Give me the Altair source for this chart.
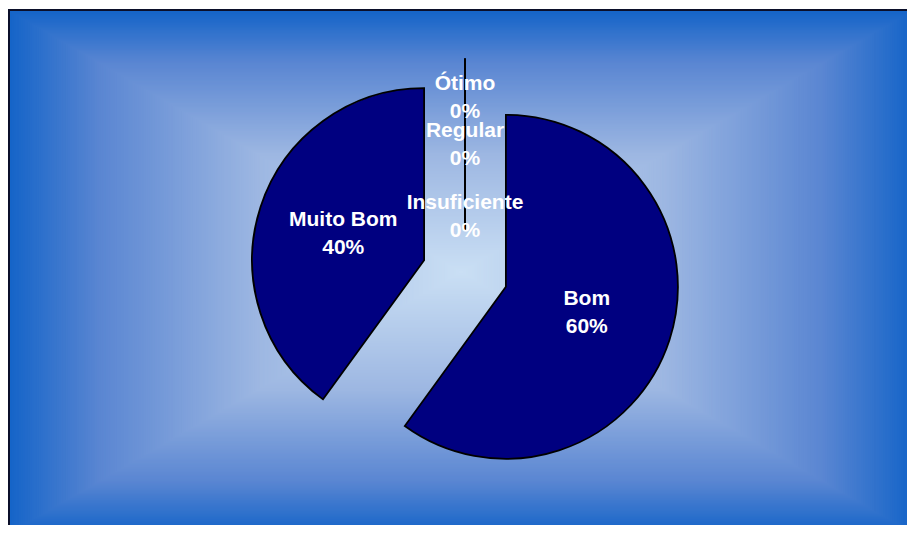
import altair as alt
import pandas as pd

# ---- data ----
categories = ["Bom", "Muito Bom", "Ótimo", "Regular", "Insuficiente"]
values = [60, 40, 0, 0, 0]
order = [0, 1, 2, 3, 4]

# background gradient colours (center -> edge)
grad_domain = [0, 0.45, 0.8, 1]
grad_colors = ["#cadff4", "#9db7e2", "#5a86d2", "#1464c8"]

W, H = 899, 517
CX, CY = 457, 265.5      # pie centre (chart px)
R = 172                  # pie radius
D = 43                   # explode distance
GCX, GCY, GHW, GHH = 453, 264, 453, 262  # gradient rectangle

df = pd.DataFrame({"cat": categories, "value": values, "order": order})

# ---- background: rectangular ("from centre") gradient ----
bg = (
    alt.Chart(alt.sequence(0, 1.0001, 0.004, as_="s"))
    .transform_calculate(t="1 - datum.s")
    .transform_calculate(
        x0=f"{GCX} - datum.t*{GHW}",
        x1=f"{GCX} + datum.t*{GHW}",
        y0=f"{GCY} - datum.t*{GHH}",
        y1=f"{GCY} + datum.t*{GHH}",
    )
    .mark_rect(strokeWidth=0)
    .encode(
        x=alt.X("x0:Q", scale=None, axis=None),
        x2="x1:Q",
        y=alt.Y("y0:Q", scale=None, axis=None),
        y2="y1:Q",
        color=alt.Color(
            "t:Q",
            scale=alt.Scale(domain=grad_domain, range=grad_colors, interpolate="rgb"),
            legend=None,
        ),
    )
)

frame_top = alt.Chart(df).mark_rule(color="#0b0f2a", strokeWidth=2).encode(
    x=alt.value(0), x2=alt.value(W), y=alt.value(2)
)
frame_left = alt.Chart(df).mark_rule(color="#0b0f2a", strokeWidth=2).encode(
    x=alt.value(1), y=alt.value(1), y2=alt.value(H)
)

base = (
    alt.Chart(df)
    .transform_window(cum="sum(value)", sort=[{"field": "order"}], frame=[None, 0])
    .transform_joinaggregate(total="sum(value)")
    .transform_calculate(
        a0="2*PI*(datum.cum - datum.value)/datum.total",
        a1="2*PI*datum.cum/datum.total",
    )
    .transform_calculate(mid="(datum.a0 + datum.a1)/2")
    .transform_calculate(
        cx=f"{CX} + {D}*sin(datum.mid)",
        cy=f"{CY} - {D}*cos(datum.mid)",
        ld="datum.value > 0 ? 85 : (datum.cat == 'Ótimo' ? 133 : (datum.cat == 'Regular' ? 86 : 14))",
        pct="format(datum.value/datum.total, '.0%')",
    )
    .transform_calculate(
        lx="datum.cx + datum.ld*sin(datum.mid)",
        ly="datum.cy - datum.ld*cos(datum.mid)",
        label="datum.cat + '\\n' + datum.pct",
    )
)

pie = base.mark_arc(radius=R, fill="#000080", stroke="#000000", strokeWidth=1.8).encode(
    theta=alt.Theta("a0:Q", scale=None),
    theta2="a1:Q",
    x=alt.X("cx:Q", scale=None, axis=None),
    y=alt.Y("cy:Q", scale=None, axis=None),
)

labels = base.mark_text(
    color="white",
    font="Liberation Sans",
    fontSize=21,
    fontWeight="bold",
    lineBreak="\n",
    lineHeight=28,
    align="center",
    baseline="middle",
    dy=-14,
).encode(
    x=alt.X("lx:Q", scale=None, axis=None),
    y=alt.Y("ly:Q", scale=None, axis=None),
    text="label:N",
)

chart = (
    alt.layer(bg, frame_top, frame_left, pie, labels)
    .properties(width=W, height=H, padding=0, autosize="none", background="white")
    .configure_view(stroke=None)
)

chart.save("out.html", embed_options={"renderer": "svg", "actions": False})
